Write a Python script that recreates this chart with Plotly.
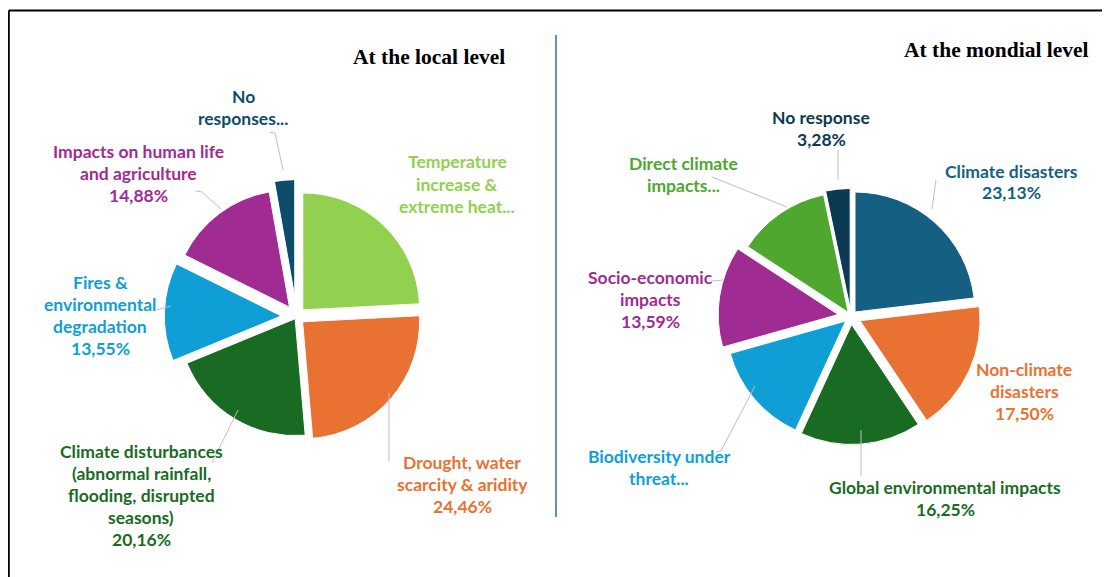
import plotly.graph_objects as go

# reference canvas is 1110x577; the page body adds an 8px margin,
# so every position is shifted by 8px (the figure edges fall outside the window).
REF_W, REF_H = 1110, 577
OFF = 8
FW, FH = REF_W, REF_H

# ---------------- data ----------------
local_categories = [
    "Temperature increase & extreme heat",
    "Drought, water scarcity & aridity",
    "Climate disturbances (abnormal rainfall, flooding, disrupted seasons)",
    "Fires & environmental degradation",
    "Impacts on human life and agriculture",
    "No responses",
]
local_values = [24.17, 24.46, 20.16, 13.55, 14.88, 2.78]
local_label_lines = [
    ["Temperature", "increase &", "extreme heat..."],
    ["Drought, water", "scarcity & aridity"],
    ["Climate disturbances", "(abnormal rainfall,", "flooding, disrupted", "seasons)"],
    ["Fires &", "environmental", "degradation"],
    ["Impacts on human life", "and agriculture"],
    ["No", "responses..."],
]
local_show_pct = [False, True, True, True, True, False]

mondial_categories = [
    "Climate disasters",
    "Non-climate disasters",
    "Global environmental impacts",
    "Biodiversity under threat",
    "Socio-economic impacts",
    "Direct climate impacts",
    "No response",
]
mondial_values = [23.13, 17.50, 16.25, 13.75, 13.59, 12.50, 3.28]
mondial_label_lines = [
    ["Climate disasters"],
    ["Non-climate", "disasters"],
    ["Global environmental impacts"],
    ["Biodiversity under", "threat..."],
    ["Socio-economic", "impacts"],
    ["Direct climate", "impacts..."],
    ["No response"],
]
mondial_show_pct = [True, True, True, False, True, False, True]

titles = ["At the local level", "At the mondial level"]

# ---------------- styles ----------------
local_colors = ["#92D050", "#E97132", "#196B24", "#0F9ED5", "#A02B93", "#0E4D6A"]
local_pull = [0.078, 0.069, 0.022, 0.13, 0.10, 0.17]
mondial_colors = ["#156082", "#E97132", "#196B24", "#0F9ED5", "#A02B93", "#4EA72E", "#0C3A52"]
mondial_pull = [0.05, 0.083, 0.067, 0.058, 0.108, 0.042, 0.067]

# label placement (reference-pixel centres, first-line y)
local_label_pos = [(457, 162), (462, 462), (141, 451.5), (100, 282), (138, 151.5), (243, 96.7)]
mondial_label_pos = [(1011, 171), (1024, 369.5), (945, 487.5), (659, 456), (650, 277), (683, 163.3), (821, 117.3)]
LINE_STEP = 22.0

local_leaders = [
    None,
    [(389, 393), (389, 461)],
    [(212, 463), (238, 410)],
    [(157, 310), (171, 306)],
    [(196, 191), (202, 192), (221, 209)],
    [(270, 132.5), (275, 133), (283, 170)],
]
mondial_leaders = [
    [(936, 180), (932, 209)],
    None,
    [(861, 430), (861, 476)],
    [(716, 452), (721, 451), (755, 386)],
    [(711, 281), (723, 280)],
    [(712, 177), (787, 207)],
    [(838, 150), (838, 180)],
]


def px(x, y):
    return (x - OFF) / FW, 1 - (y - OFF) / FH


def pct(v):
    return f"{v:.2f}".replace(".", ",") + "%"


def pie_domain(cx, cy, r, maxpull):
    half = r * (1 + maxpull)
    cx, cy = cx - OFF, cy - OFF
    return dict(x=[(cx - half) / FW, (cx + half) / FW],
                y=[1 - (cy + half) / FH, 1 - (cy - half) / FH])


fig = go.Figure()

fig.add_trace(go.Pie(
    labels=local_categories, values=local_values, sort=False,
    direction="clockwise", rotation=0, pull=local_pull,
    marker=dict(colors=local_colors, line=dict(color="white", width=1)),
    textinfo="none", hoverinfo="label+percent", showlegend=False,
    domain=pie_domain(296.5, 316.5, 117, max(local_pull)),
))
fig.add_trace(go.Pie(
    labels=mondial_categories, values=mondial_values, sort=False,
    direction="clockwise", rotation=0, pull=mondial_pull,
    marker=dict(colors=mondial_colors, line=dict(color="white", width=1)),
    textinfo="none", hoverinfo="label+percent", showlegend=False,
    domain=pie_domain(851, 316.5, 120, max(mondial_pull)),
))

annotations = []
shapes = []

LABEL_FONT = "Lato"


def add_labels(lines_list, show_list, values, colors, positions, leaders):
    for lines, show, v, c, (x, y0), lead in zip(lines_list, show_list, values, colors, positions, leaders):
        all_lines = list(lines) + ([pct(v)] if show else [])
        for k, t in enumerate(all_lines):
            xx, yy = px(x, y0 + k * LINE_STEP)
            annotations.append(dict(
                x=xx, y=yy, xref="paper", yref="paper", text=t, showarrow=False,
                xanchor="center", yanchor="middle",
                font=dict(family=LABEL_FONT, size=17.5, color=c, weight="bold"),
            ))
        if lead:
            pts = [px(a, b) for a, b in lead]
            path = "M " + " L ".join(f"{a:.5f},{b:.5f}" for a, b in pts)
            shapes.append(dict(type="path", xref="paper", yref="paper", path=path,
                               line=dict(color="#BFBFBF", width=1)))


add_labels(local_label_lines, local_show_pct, local_values, local_colors, local_label_pos, local_leaders)
add_labels(mondial_label_lines, mondial_show_pct, mondial_values, mondial_colors, mondial_label_pos, mondial_leaders)

# titles
for t, (x, y) in zip(titles, [(428.7, 57.5), (996, 49.5)]):
    xx, yy = px(x, y)
    annotations.append(dict(
        x=xx, y=yy, xref="paper", yref="paper", text=f"<b>{t}</b>", showarrow=False,
        xanchor="center", yanchor="middle",
        font=dict(family="Liberation Serif", size=21.5, color="black"),
    ))

# frame (left and top edges) and divider
fl, ft = px(8.8, 10.5)
shapes.append(dict(type="line", xref="paper", yref="paper", x0=fl, x1=fl, y0=ft, y1=0,
                   line=dict(color="black", width=2)))
shapes.append(dict(type="line", xref="paper", yref="paper", x0=fl, x1=1, y0=ft, y1=ft,
                   line=dict(color="black", width=2)))
dx, dy0 = px(556, 35)
_, dy1 = px(556, 517)
shapes.append(dict(type="line", xref="paper", yref="paper", x0=dx, x1=dx, y0=dy0, y1=dy1,
                   line=dict(color="#2E6E9E", width=1.5)))

fig.update_layout(
    width=FW, height=FH,
    margin=dict(l=0, r=0, t=0, b=0),
    paper_bgcolor="white", plot_bgcolor="white",
    annotations=annotations, shapes=shapes,
)

fig.write_html("out.html")
